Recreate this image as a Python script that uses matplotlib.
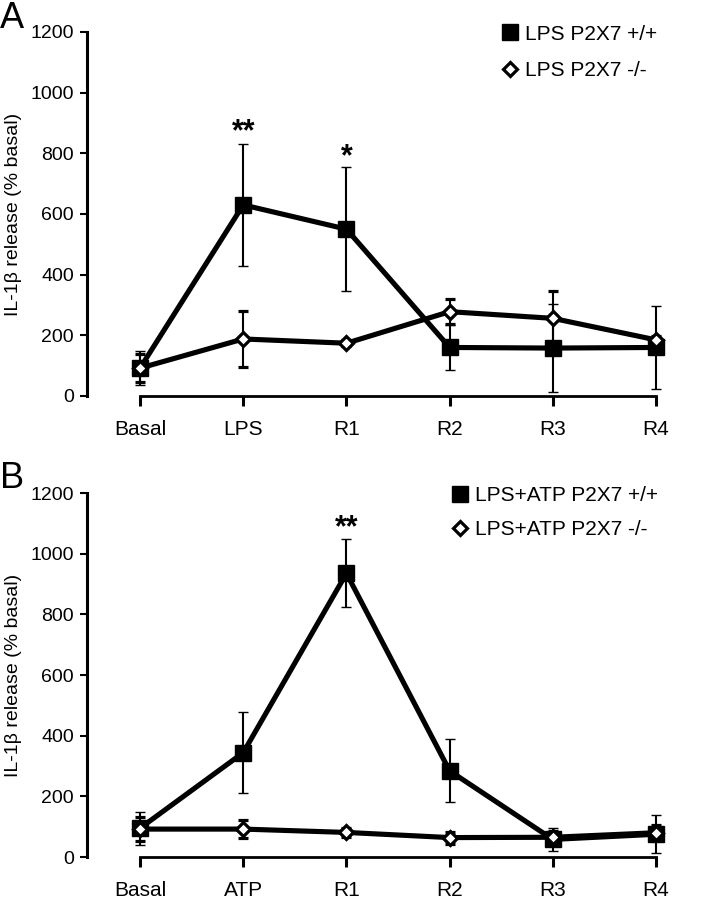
import matplotlib
matplotlib.use('Agg')
import matplotlib.pyplot as plt
from matplotlib.lines import Line2D

plt.rcParams['font.family'] = ['Liberation Sans', 'DejaVu Sans']

# panel A: LPS alone
cats_a = ['Basal', 'LPS', 'R1', 'R2', 'R3', 'R4']
wt_a = [92, 630, 550, 160, 158, 160]
wt_a_err = [55, 200, 205, 74, 146, 138]
ko_a = [92, 188, 174, 278, 256, 185]
ko_a_err = [45, 92, 10, 41, 91, 12]
stars_a = [(1, 842, '**'), (2, 760, '*')]

# panel B: LPS + ATP
cats_b = ['Basal', 'ATP', 'R1', 'R2', 'R3', 'R4']
wt_b = [95, 344, 935, 284, 58, 75]
wt_b_err = [55, 134, 112, 104, 37, 62]
ko_b = [92, 92, 81, 64, 65, 80]
ko_b_err = [40, 30, 15, 20, 20, 25]
stars_b = [(2, 1058, '**')]

labels_a = ['LPS P2X7 +/+', 'LPS P2X7 -/-']
labels_b = ['LPS+ATP P2X7 +/+', 'LPS+ATP P2X7 -/-']

fig = plt.figure(figsize=(7.12, 9), dpi=100)
ax_a = fig.add_axes([87/712, 1 - 396/900, 600/712, 364/900])
ax_b = fig.add_axes([87/712, 1 - 857/900, 600/712, 364/900])


def draw_panel(ax, cats, wt, wt_err, ko, ko_err, stars, labels, leg_x, leg_y, leg_fs, leg_sp):
    x = list(range(len(cats)))
    ax.errorbar(x, wt, yerr=wt_err, color='black', lw=3.7, marker='s', ms=11,
                mfc='black', mec='black', mew=1, elinewidth=1.5, capsize=3.6,
                capthick=1.6, clip_on=False, zorder=3)
    ax.errorbar(x, ko, yerr=ko_err, color='black', lw=3.7, marker='D', ms=7.5,
                mfc='white', mec='black', mew=2.3, elinewidth=1.5, capsize=3.6,
                capthick=1.6, clip_on=False, zorder=4)
    for sx, sy, s in stars:
        ax.text(sx, sy, s, ha='center', va='baseline', fontsize=22, fontweight='bold')

    ax.set_xlim(-0.514, 5.3)
    ax.set_ylim(0, 1200)
    ax.set_xticks(x)
    ax.set_xticklabels(cats)
    ax.set_yticks(range(0, 1201, 200))
    for side in ['top', 'right']:
        ax.spines[side].set_visible(False)
    ax.spines['bottom'].set_bounds(0, 5)
    ax.spines['left'].set_bounds(0, 1200)
    ax.spines['bottom'].set_linewidth(2)
    ax.spines['left'].set_linewidth(2.2)
    ax.tick_params(axis='x', length=7.2, width=2.2, pad=10, labelsize=15)
    ax.tick_params(axis='y', length=5, width=1.5, pad=4.3, labelsize=14)
    ax.set_ylabel('IL-1β release (% basal)', fontsize=14)
    ax.yaxis.set_label_coords(-0.108, 0.5)

    handles = [
        Line2D([], [], ls='none', marker='s', ms=11, mfc='black', mec='black', mew=1),
        Line2D([], [], ls='none', marker='D', ms=7.5, mfc='white', mec='black', mew=2.3),
    ]
    ax.legend(handles, labels, loc='upper left', bbox_to_anchor=(leg_x, leg_y),
              frameon=False, fontsize=leg_fs, handlelength=1.0, handletextpad=0.2,
              borderpad=0, borderaxespad=0, labelspacing=leg_sp)


draw_panel(ax_a, cats_a, wt_a, wt_a_err, ko_a, ko_a_err, stars_a, labels_a,
           0.688, 1.02, 15, 0.82)
draw_panel(ax_b, cats_b, wt_b, wt_b_err, ko_b, ko_b_err, stars_b, labels_b,
           0.605, 1.019, 15, 0.72)

fig.text(0.0, 1 - 1/900, 'A', ha='left', va='top', fontsize=26)
fig.text(0.0, 1 - 461/900, 'B', ha='left', va='top', fontsize=26)

fig.savefig('out.png', dpi=100)
